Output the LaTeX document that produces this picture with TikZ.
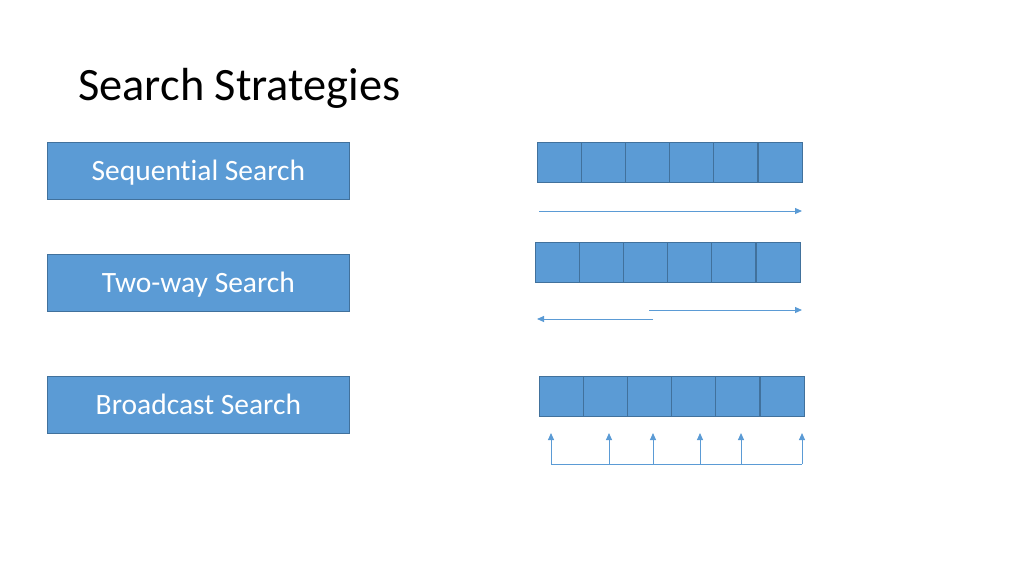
\documentclass[tikz,border=0pt]{standalone}
\usepackage{fontspec}
\setmainfont[Ligatures=NoCommon]{Carlito}
\usetikzlibrary{arrows.meta}
\definecolor{cellblue}{HTML}{5B9BD5}
\definecolor{celledge}{HTML}{41719C}
\tikzset{
	strategy/.style={draw=celledge, fill=cellblue, text=white, line width=0.8pt,
		minimum width=302pt, minimum height=57pt, anchor=north west, inner sep=0pt,
		text height=19.5pt, text depth=0pt, font=\fontsize{29.5}{34}\selectfont},
	cell/.style={draw=celledge, fill=cellblue, line width=0.8pt, minimum width=44pt,
		minimum height=40pt, anchor=north west, inner sep=0pt, outer sep=0pt},
	scan/.style={draw=cellblue, line width=1pt, -{Triangle[length=7pt,width=6pt]}}
}
\begin{document}
\begin{tikzpicture}[x=1pt, y=-1pt]
	\useasboundingbox (0,0) rectangle (1024,576);

	% title
	\node[anchor=base west, inner sep=0pt, font=\fontsize{46.4}{56}\selectfont] (title) at (78,100) {Search Strategies};

	% strategies
	\node[strategy] (seq) at (47,142) {Sequential Search};
	\node[strategy] (two) at (47,254) {Two-way Search};
	\node[strategy] (bcast) at (47,376) {Broadcast Search};

	% arrays
	\foreach \i in {1,...,6} {
		\node[cell] (a\i) at ({537+44.2*(\i-1)},142) {};
		\node[cell] (b\i) at ({535+44.2*(\i-1)},242) {};
		\node[cell] (c\i) at ({539+44.2*(\i-1)},376) {};
	}

	% sequential
	\coordinate (s0) at (539,211);
	\coordinate (s1) at (802,211);
	\draw[scan] (s0) -- (s1);

	% two-way
	\coordinate (r0) at (649,310);
	\coordinate (r1) at (802,310);
	\coordinate (l0) at (653,319);
	\coordinate (l1) at (537,319);
	\draw[scan] (r0) -- (r1);
	\draw[scan] (l0) -- (l1);

	% broadcast
	\foreach \i/\x in {1/551,2/609,3/653,4/700,5/741,6/802} {
		\coordinate (f\i) at (\x,464);
		\coordinate (t\i) at (\x,433);
	}
	\draw[draw=cellblue, line width=1pt] (f1) -- (f6);
	\foreach \i in {1,...,6}
		\draw[scan] (f\i) -- (t\i);

\end{tikzpicture}
\end{document}
